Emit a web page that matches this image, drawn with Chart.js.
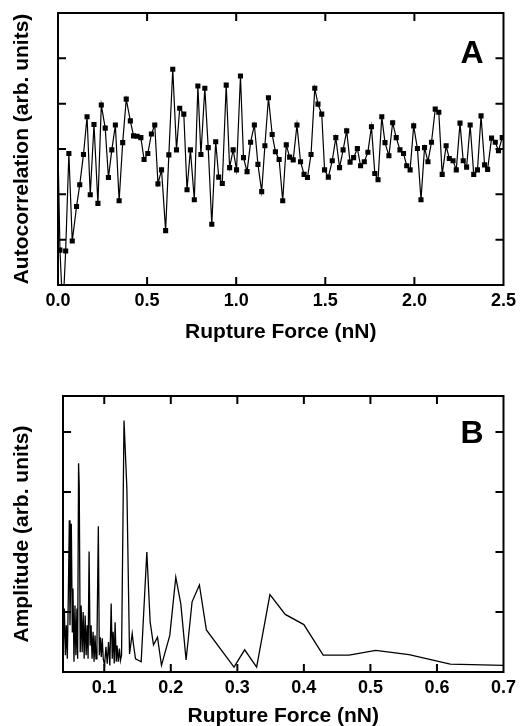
<!DOCTYPE html>
<html lang="en">
<head>
<meta charset="UTF-8" />
<title>Rupture Force Autocorrelation and Spectrum</title>
<script src="https://cdn.jsdelivr.net/npm/chart.js"></script>
<style>
  body { margin: 0; background: #fff; overflow: hidden; }
  #wrap { position: relative; width: 521px; height: 726px; }
  canvas { position: absolute; left: 0; }
  #chartA { top: 0; }
  #chartB { top: 345px; }
</style>
</head>
<body>
<div id="wrap">
  <canvas id="chartA" width="521" height="345"></canvas>
  <canvas id="chartB" width="521" height="384"></canvas>
</div>
<script>
  // panel A: autocorrelation vs rupture force
  const autoX = [0, 0.011, 0.027, 0.043, 0.061, 0.080, 0.104, 0.122, 0.143, 0.163,
    0.181, 0.202, 0.224, 0.243, 0.265, 0.283, 0.302, 0.322, 0.343, 0.363,
    0.383, 0.406, 0.424, 0.444, 0.465, 0.483, 0.504, 0.524, 0.543, 0.561,
    0.581, 0.604, 0.622, 0.644, 0.665, 0.683, 0.706, 0.724, 0.743, 0.765,
    0.785, 0.802, 0.824, 0.843, 0.863, 0.885, 0.902, 0.922, 0.944, 0.963,
    0.983, 1.002, 1.024, 1.041, 1.061, 1.081, 1.102, 1.122, 1.143, 1.161,
    1.181, 1.202, 1.220, 1.241, 1.261, 1.281, 1.300, 1.320, 1.341, 1.361,
    1.381, 1.400, 1.420, 1.441, 1.459, 1.480, 1.496, 1.517, 1.539, 1.559,
    1.580, 1.600, 1.620, 1.639, 1.659, 1.680, 1.698, 1.719, 1.739, 1.759,
    1.778, 1.796, 1.817, 1.835, 1.857, 1.878, 1.898, 1.919, 1.939, 1.957,
    1.976, 1.996, 2.017, 2.037, 2.057, 2.076, 2.096, 2.117, 2.137, 2.156,
    2.178, 2.196, 2.217, 2.235, 2.256, 2.274, 2.293, 2.313, 2.333, 2.354,
    2.374, 2.394, 2.411, 2.433, 2.454, 2.472, 2.493];
  const autoY = [3.0, 0.77, -0.6, 0.75, 2.90, 0.97, 1.73, 2.21, 2.88, 3.71,
    1.99, 3.54, 1.80, 3.97, 3.46, 2.37, 2.98, 3.53, 1.86, 3.14,
    4.10, 3.62, 3.29, 3.28, 3.25, 2.77, 2.90, 3.33, 3.53, 2.23,
    2.54, 1.20, 2.87, 4.76, 2.98, 3.90, 3.77, 2.10, 2.98, 1.88,
    4.39, 2.88, 4.34, 3.03, 1.34, 3.16, 2.38, 2.24, 4.41, 2.59,
    2.98, 2.54, 4.61, 2.81, 2.50, 3.15, 3.53, 2.66, 2.06, 3.07,
    4.13, 3.32, 2.94, 2.77, 1.86, 3.09, 2.82, 2.76, 3.53, 2.72,
    2.44, 2.37, 2.88, 4.34, 3.99, 3.77, 2.54, 2.38, 2.74, 3.25,
    2.59, 2.98, 3.40, 2.71, 2.81, 3.01, 2.63, 2.72, 2.93, 3.49,
    2.46, 2.32, 3.71, 3.14, 2.85, 3.58, 3.25, 2.98, 2.90, 2.63,
    2.54, 3.51, 3.01, 1.88, 3.03, 2.72, 3.15, 3.88, 3.81, 2.44,
    3.07, 2.79, 2.74, 2.54, 3.57, 2.74, 2.60, 3.53, 2.44, 2.54,
    3.73, 2.65, 2.55, 3.24, 3.15, 2.96, 3.25];
  const xTicksA = [0, 0.5, 1.0, 1.5, 2.0, 2.5];
  const yTicksA = [1, 2, 3, 4, 5];

  // panel B: amplitude spectrum
  const ampX = [0.0386, 0.040, 0.0416, 0.043, 0.0445, 0.046, 0.0475, 0.0485, 0.0495, 0.0505,
    0.052, 0.053, 0.0545, 0.056, 0.0574, 0.059, 0.060, 0.0614, 0.0624, 0.0639,
    0.0653, 0.0668, 0.0683, 0.0698, 0.0713, 0.0728, 0.0743, 0.0757, 0.0772, 0.0787,
    0.0802, 0.0817, 0.0832, 0.0847, 0.0861, 0.0876, 0.089, 0.0911, 0.0926, 0.094,
    0.0955, 0.097, 0.0985, 0.1005, 0.1025, 0.1045, 0.1064, 0.1084, 0.1104, 0.112,
    0.1134, 0.115, 0.1163, 0.118, 0.1193, 0.121, 0.1228, 0.1243, 0.126, 0.1297,
    0.134, 0.138, 0.142, 0.144, 0.147, 0.1555, 0.164, 0.169, 0.174, 0.180,
    0.186, 0.1985, 0.2075, 0.215, 0.223, 0.232, 0.243, 0.2535, 0.295, 0.311,
    0.329, 0.349, 0.372, 0.400, 0.429, 0.468, 0.508, 0.558, 0.620, 0.700];
  const ampY = [0.44, 1.06, 0.28, 0.78, 0.22, 1.28, 2.53, 0.78, 1.56, 2.47,
    0.67, 1.39, 0.17, 1.11, 0.28, 1.06, 0.22, 3.48, 3.11, 0.33,
    1.11, 0.33, 1.0, 0.22, 0.94, 0.28, 0.78, 0.22, 2.01, 0.44,
    0.78, 0.22, 0.67, 0.17, 0.61, 0.22, 0.44, 2.43, 0.28, 0.58,
    0.25, 0.56, 0.22, 0.11, 0.42, 0.14, 0.5, 0.11, 1.14, 0.22,
    0.67, 0.14, 0.83, 0.17, 0.44, 0.17, 0.39, 0.19, 0.28, 4.19,
    3.06, 0.3, 0.64, 0.45, 0.22, 0.17, 2.0, 0.83, 0.45, 0.58,
    0.11, 0.61, 1.58, 1.14, 0.2, 1.17, 1.45, 0.70, 0.08, 0.37,
    0.08, 1.29, 0.96, 0.79, 0.28, 0.28, 0.36, 0.29, 0.13, 0.11];
  const xTicksB = [0.1, 0.2, 0.3, 0.4, 0.5, 0.6, 0.7];
  const yTicksB = [1, 2, 3, 4];

  const FONT = '"Liberation Sans", Arial, Helvetica, sans-serif';
  const tickFont = { family: FONT, size: 18, weight: 'bold' };
  const titleFont = { family: FONT, size: 21, weight: 'bold' };

  // box frame, inward ticks on all four sides, and the panel letter
  const frameTicks = {
    id: 'frameTicks',
    afterDraw(chart, args, opts) {
      const { ctx, chartArea: a, scales } = chart;
      const len = 8;
      ctx.save();
      ctx.strokeStyle = '#000';
      ctx.lineWidth = 2;
      ctx.strokeRect(a.left, a.top, a.right - a.left, a.bottom - a.top);
      ctx.beginPath();
      scales.x.ticks.forEach(t => {
        const px = scales.x.getPixelForValue(t.value);
        if (px <= a.left + 1 || px >= a.right - 1) return;
        ctx.moveTo(px, a.bottom); ctx.lineTo(px, a.bottom - len);
        ctx.moveTo(px, a.top); ctx.lineTo(px, a.top + len);
      });
      scales.y.ticks.forEach(t => {
        const py = scales.y.getPixelForValue(t.value);
        if (py <= a.top + 1 || py >= a.bottom - 1) return;
        ctx.moveTo(a.left, py); ctx.lineTo(a.left + len, py);
        ctx.moveTo(a.right, py); ctx.lineTo(a.right - len, py);
      });
      ctx.stroke();
      ctx.fillStyle = '#000';
      ctx.font = 'bold 32px ' + FONT;
      ctx.textAlign = 'right';
      ctx.textBaseline = 'alphabetic';
      ctx.fillText(opts.text, a.right - 20, a.top + opts.dy);
      ctx.restore();
    }
  };

  function axisX(min, max, tickVals, height) {
    return {
      type: 'linear', min: min, max: max,
      afterBuildTicks: s => { s.ticks = tickVals.map(v => ({ value: v })); },
      ticks: { callback: v => v.toFixed(1), font: tickFont, color: '#000', padding: 5, maxRotation: 0, autoSkip: false },
      grid: { display: false, drawTicks: false },
      border: { display: false },
      title: { display: true, text: 'Rupture Force (nN)', font: titleFont, color: '#000', padding: { top: 0, bottom: 0 } },
      afterFit: s => { s.height = height; }
    };
  }

  function axisY(min, max, tickVals, label, width) {
    return {
      min: min, max: max,
      afterBuildTicks: s => { s.ticks = tickVals.map(v => ({ value: v })); },
      ticks: { display: false },
      grid: { display: false, drawTicks: false },
      border: { display: false },
      title: { display: true, text: label, font: titleFont, color: '#000', padding: { top: 10, bottom: 0 } },
      afterFit: s => { s.width = width; }
    };
  }

  new Chart(document.getElementById('chartA'), {
    type: 'line',
    data: {
      datasets: [{
        data: autoX.map((x, i) => ({ x: x, y: autoY[i] })),
        borderColor: '#000',
        borderWidth: 1.2,
        tension: 0,
        pointStyle: 'rect',
        pointRadius: c => (c.raw && c.raw.x > 0 && c.raw.y > 0) ? 3.6 : 0,
        pointBackgroundColor: '#000',
        pointBorderWidth: 0
      }]
    },
    options: {
      responsive: false,
      animation: false,
      devicePixelRatio: 1,
      layout: { padding: { top: 13, right: 13, left: 0, bottom: 0 } },
      plugins: { legend: { display: false }, tooltip: { enabled: false }, frameTicks: { text: 'A', dy: 50 } },
      scales: {
        x: axisX(0, 2.5, xTicksA, 60),
        y: axisY(0, 6, yTicksA, 'Autocorrelation (arb. units)', 58)
      }
    },
    plugins: [frameTicks]
  });

  new Chart(document.getElementById('chartB'), {
    type: 'line',
    data: {
      datasets: [{
        data: ampX.map((x, i) => ({ x: x, y: ampY[i] })),
        borderColor: '#000',
        borderWidth: 1.3,
        tension: 0,
        pointRadius: 0
      }]
    },
    options: {
      responsive: false,
      animation: false,
      devicePixelRatio: 1,
      layout: { padding: { top: 51, right: 14, left: 0, bottom: 0 } },
      plugins: { legend: { display: false }, tooltip: { enabled: false }, frameTicks: { text: 'B', dy: 47 } },
      scales: {
        x: axisX(0.038, 0.7, xTicksB, 57),
        y: axisY(0, 4.6, yTicksB, 'Amplitude (arb. units)', 63)
      }
    },
    plugins: [frameTicks]
  });
</script>
</body>
</html>
